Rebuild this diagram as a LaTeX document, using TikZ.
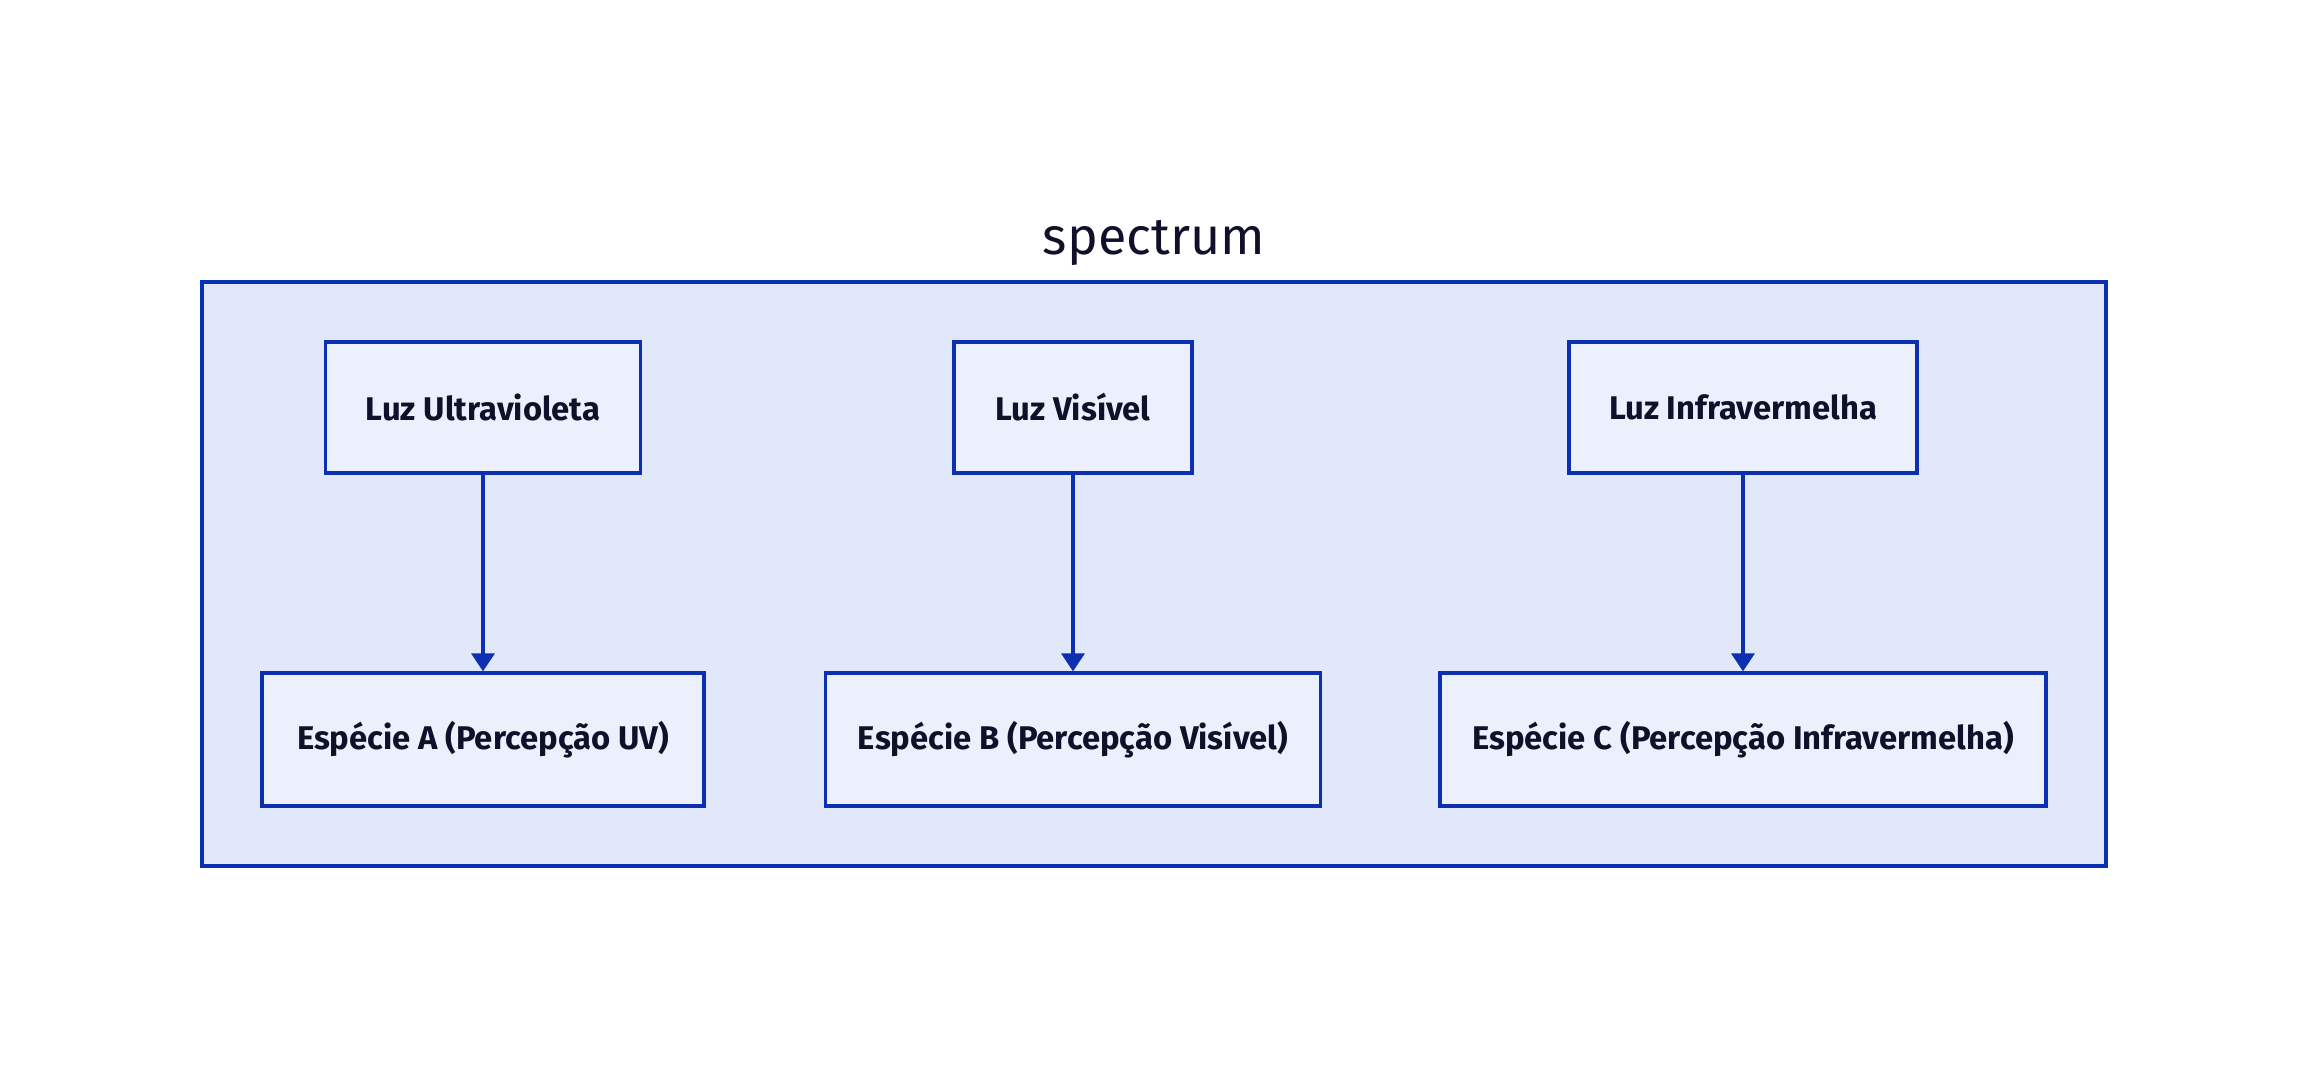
\documentclass[tikz,border=0pt]{standalone}
\usepackage{fontspec}
\setmainfont{Fira Sans}
\usepackage{xcolor}
\usetikzlibrary{arrows.meta}

\definecolor{edge}{RGB}{13,47,178}
\definecolor{area}{RGB}{225,232,250}
\definecolor{boxfill}{RGB}{236,240,252}
\definecolor{ink}{RGB}{16,16,42}

\tikzset{
 lightbox/.style={draw=edge,line width=1.6pt,fill=boxfill,text=ink,
  font=\fontsize{16.4}{19}\selectfont\bfseries,inner sep=0pt},
 ray/.style={draw=edge,line width=1.6pt,-{Triangle[width=11.5pt,length=9pt]}}
}

\begin{document}
\begin{tikzpicture}[x=0.5pt,y=-0.5pt]

\useasboundingbox (0,0) rectangle (2308,1068);
\def\hu{407.5} \def\hd{739.5}

%spectrum
\draw[draw=edge,fill=area,line width=2pt] (202,282) rectangle (2106,866);
\node[text=ink,anchor=base,font=\fontsize{26}{30}\selectfont] (title) at (1154,255) {spectrum};

%luz
\node[lightbox,minimum width=157.5pt,minimum height=65.5pt] (uv) at (483,\hu) {Luz Ultravioleta};
\node[lightbox,minimum width=119pt,minimum height=65.5pt] (vis) at (1073,\hu) {Luz Visível};
\node[lightbox,minimum width=174pt,minimum height=65.5pt] (ir) at (1743,\hu) {Luz Infravermelha};

%especies
\node[lightbox,minimum width=221pt,minimum height=66.5pt] (spA) at (483,\hd) {Espécie A (Percepção UV)};
\node[lightbox,minimum width=247.5pt,minimum height=66.5pt] (spB) at (1073,\hd) {Espécie B (Percepção Visível)};
\node[lightbox,minimum width=303pt,minimum height=66.5pt] (spC) at (1743,\hd) {Espécie C (Percepção Infravermelha)};

\foreach \a/\b in {uv/spA,vis/spB,ir/spC} \draw[ray] (\a) -- (\b);

\end{tikzpicture}
\end{document}
